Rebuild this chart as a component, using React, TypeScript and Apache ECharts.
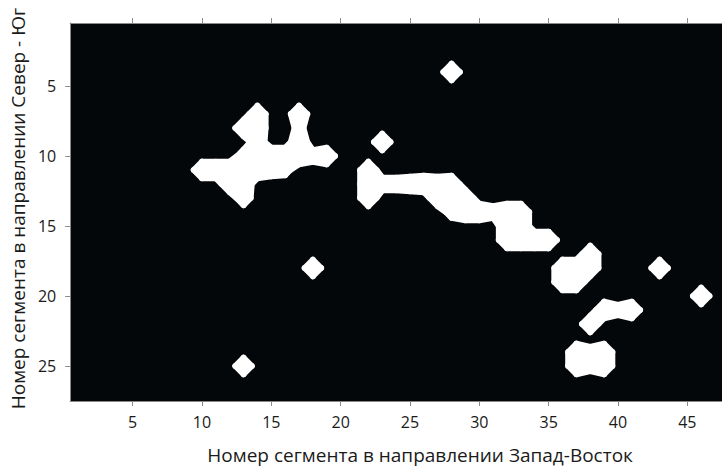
import React, { useEffect, useRef } from "react";
import * as echarts from "echarts";

// Grid size (segments West-East x North-South)
const COLS = 47;
const ROWS = 27;
const LEVEL = 0.41;

// Tick values
const xTicks = [5, 10, 15, 20, 25, 30, 35, 40, 45];
const yTicks = [5, 10, 15, 20, 25];

// Cell values [x, y, value] — segments flagged (value > 0)
const isolatedCells: [number, number, number][] = [
  [28, 4, 1], [23, 9, 1], [18, 18, 1], [13, 25, 1], [43, 18, 1], [46, 20, 1],
];

const northWestCluster: [number, number, number][] = [
  [14, 7, 1], [17, 7, 1],
  [13, 8, 1], [14, 8, 1], [17, 8, 0.6],
  [14, 9, 0.84], [17, 9, 1],
  [13, 10, 0.75], [14, 10, 1], [15, 10, 1], [16, 10, 1], [17, 10, 1], [18, 10, 0.7], [19, 10, 1],
  [10, 11, 1], [11, 11, 1], [12, 11, 1], [13, 11, 1], [14, 11, 1], [15, 11, 0.75], [16, 11, 0.65],
  [12, 12, 1], [13, 12, 1],
  [13, 13, 0.84],
];

const centralCluster: [number, number, number][] = [
  [22, 11, 1],
  [22, 12, 1], [23, 12, 0.75], [24, 12, 0.75], [25, 12, 0.84], [26, 12, 1], [27, 12, 0.84], [28, 12, 1],
  [22, 13, 1], [27, 13, 1], [28, 13, 1], [29, 13, 1],
  [28, 14, 0.7], [29, 14, 1], [30, 14, 1], [31, 14, 0.7], [32, 14, 1], [33, 14, 1],
  [32, 15, 1], [33, 15, 1],
  [32, 16, 1], [33, 16, 1], [34, 16, 1], [35, 16, 1],
];

const southEastCluster: [number, number, number][] = [
  [38, 17, 1],
  [36, 18, 1], [37, 18, 1], [38, 18, 1],
  [36, 19, 1], [37, 19, 1],
  [39, 21, 1], [40, 21, 0.65], [41, 21, 1],
  [38, 22, 1],
  [37, 24, 1], [38, 24, 0.65], [39, 24, 1],
  [37, 25, 1], [38, 25, 0.65], [39, 25, 1],
];

const FONT = "'Open Sans', 'Noto Sans', sans-serif";

function buildGrid() {
  const g = new Map<string, number>();
  [isolatedCells, northWestCluster, centralCluster, southEastCluster].forEach((arr) =>
    arr.forEach(([x, y, v]) => g.set(x + "," + y, v))
  );
  return g;
}

export default function App() {
  const ref = useRef<HTMLDivElement>(null);
  useEffect(() => {
    if (!ref.current) return;
    const chart = echarts.init(ref.current, undefined, { renderer: "svg" });
    const grid = buildGrid();
    const val = (x: number, y: number) => grid.get(x + "," + y) || 0;

    // dual-grid squares (between cell centres) that touch the contour region
    const squares: number[][] = [];
    for (let i = 0; i <= COLS; i++) {
      for (let j = 0; j <= ROWS; j++) {
        const vs = [val(i, j), val(i + 1, j), val(i + 1, j + 1), val(i, j + 1)];
        if (vs.some((v) => v >= LEVEL)) squares.push([i, j]);
      }
    }

    const renderItem = (params: any, api: any) => {
      const i = api.value(0);
      const j = api.value(1);
      const corners = [[i, j], [i + 1, j], [i + 1, j + 1], [i, j + 1]];
      const vs = corners.map(([x, y]) => val(x, y));
      const pts: number[][] = [];
      for (let k = 0; k < 4; k++) {
        const a = corners[k];
        const b = corners[(k + 1) % 4];
        const va = vs[k];
        const vb = vs[(k + 1) % 4];
        if (va >= LEVEL) pts.push(api.coord(a));
        if ((va >= LEVEL) !== (vb >= LEVEL)) {
          const t = (LEVEL - va) / (vb - va);
          pts.push(api.coord([a[0] + t * (b[0] - a[0]), a[1] + t * (b[1] - a[1])]));
        }
      }
      if (pts.length < 3) return null;
      return {
        type: "polygon",
        shape: { points: pts },
        style: { fill: "#ffffff", stroke: "#ffffff", lineWidth: 6, lineJoin: "round" },
      };
    };

    const axisLineStyle = { color: "#8a8a8a", width: 1 };
    chart.setOption({
      animation: false,
      grid: {
        left: 68,
        top: 23,
        width: COLS * 14,
        height: ROWS * 14,
        show: true,
        backgroundColor: "#04070a",
        borderWidth: 0,
      },
      xAxis: [
        {
          type: "value",
          min: 0.5,
          max: COLS + 0.5,
          position: "bottom",
          axisLine: { show: true, lineStyle: axisLineStyle },
          axisTick: { show: true, customValues: xTicks, length: 5, lineStyle: axisLineStyle },
          axisLabel: { customValues: xTicks, fontSize: 16, color: "#1a1a1a", margin: 13, fontFamily: FONT },
          splitLine: { show: false },
          name: "Номер сегмента в направлении Запад-Восток",
          nameLocation: "middle",
          nameGap: 44,
          nameTextStyle: { fontSize: 19, color: "#1a1a1a", fontFamily: FONT, padding: [0, 0, 0, 48] },
        },
        {
          type: "value",
          min: 0.5,
          max: COLS + 0.5,
          position: "top",
          axisLine: { show: true, lineStyle: axisLineStyle },
          axisTick: { show: true, customValues: xTicks, length: 5, lineStyle: axisLineStyle },
          axisLabel: { show: false },
          splitLine: { show: false },
        },
      ],
      yAxis: [
        {
          type: "value",
          inverse: true,
          min: 0.5,
          max: ROWS + 0.5,
          axisLine: { show: true, lineStyle: axisLineStyle },
          axisTick: { show: true, customValues: yTicks, length: 5, lineStyle: axisLineStyle },
          axisLabel: { customValues: yTicks, fontSize: 16, color: "#1a1a1a", margin: 14, fontFamily: FONT },
          splitLine: { show: false },
          name: "Номер сегмента в направлении Север - Юг",
          nameLocation: "middle",
          nameGap: 42,
          nameTextStyle: { fontSize: 19, color: "#1a1a1a", fontFamily: FONT, padding: [0, 0, 0, 7] },
        },
      ],
      series: [
        {
          type: "custom",
          coordinateSystem: "cartesian2d",
          xAxisIndex: 0,
          yAxisIndex: 0,
          clip: true,
          renderItem,
          data: squares,
        },
      ],
    });
    return () => chart.dispose();
  }, []);
  return (
    <div
      ref={ref}
      style={{ position: "absolute", left: 0, top: 0, width: 722, height: 469 }}
    />
  );
}
